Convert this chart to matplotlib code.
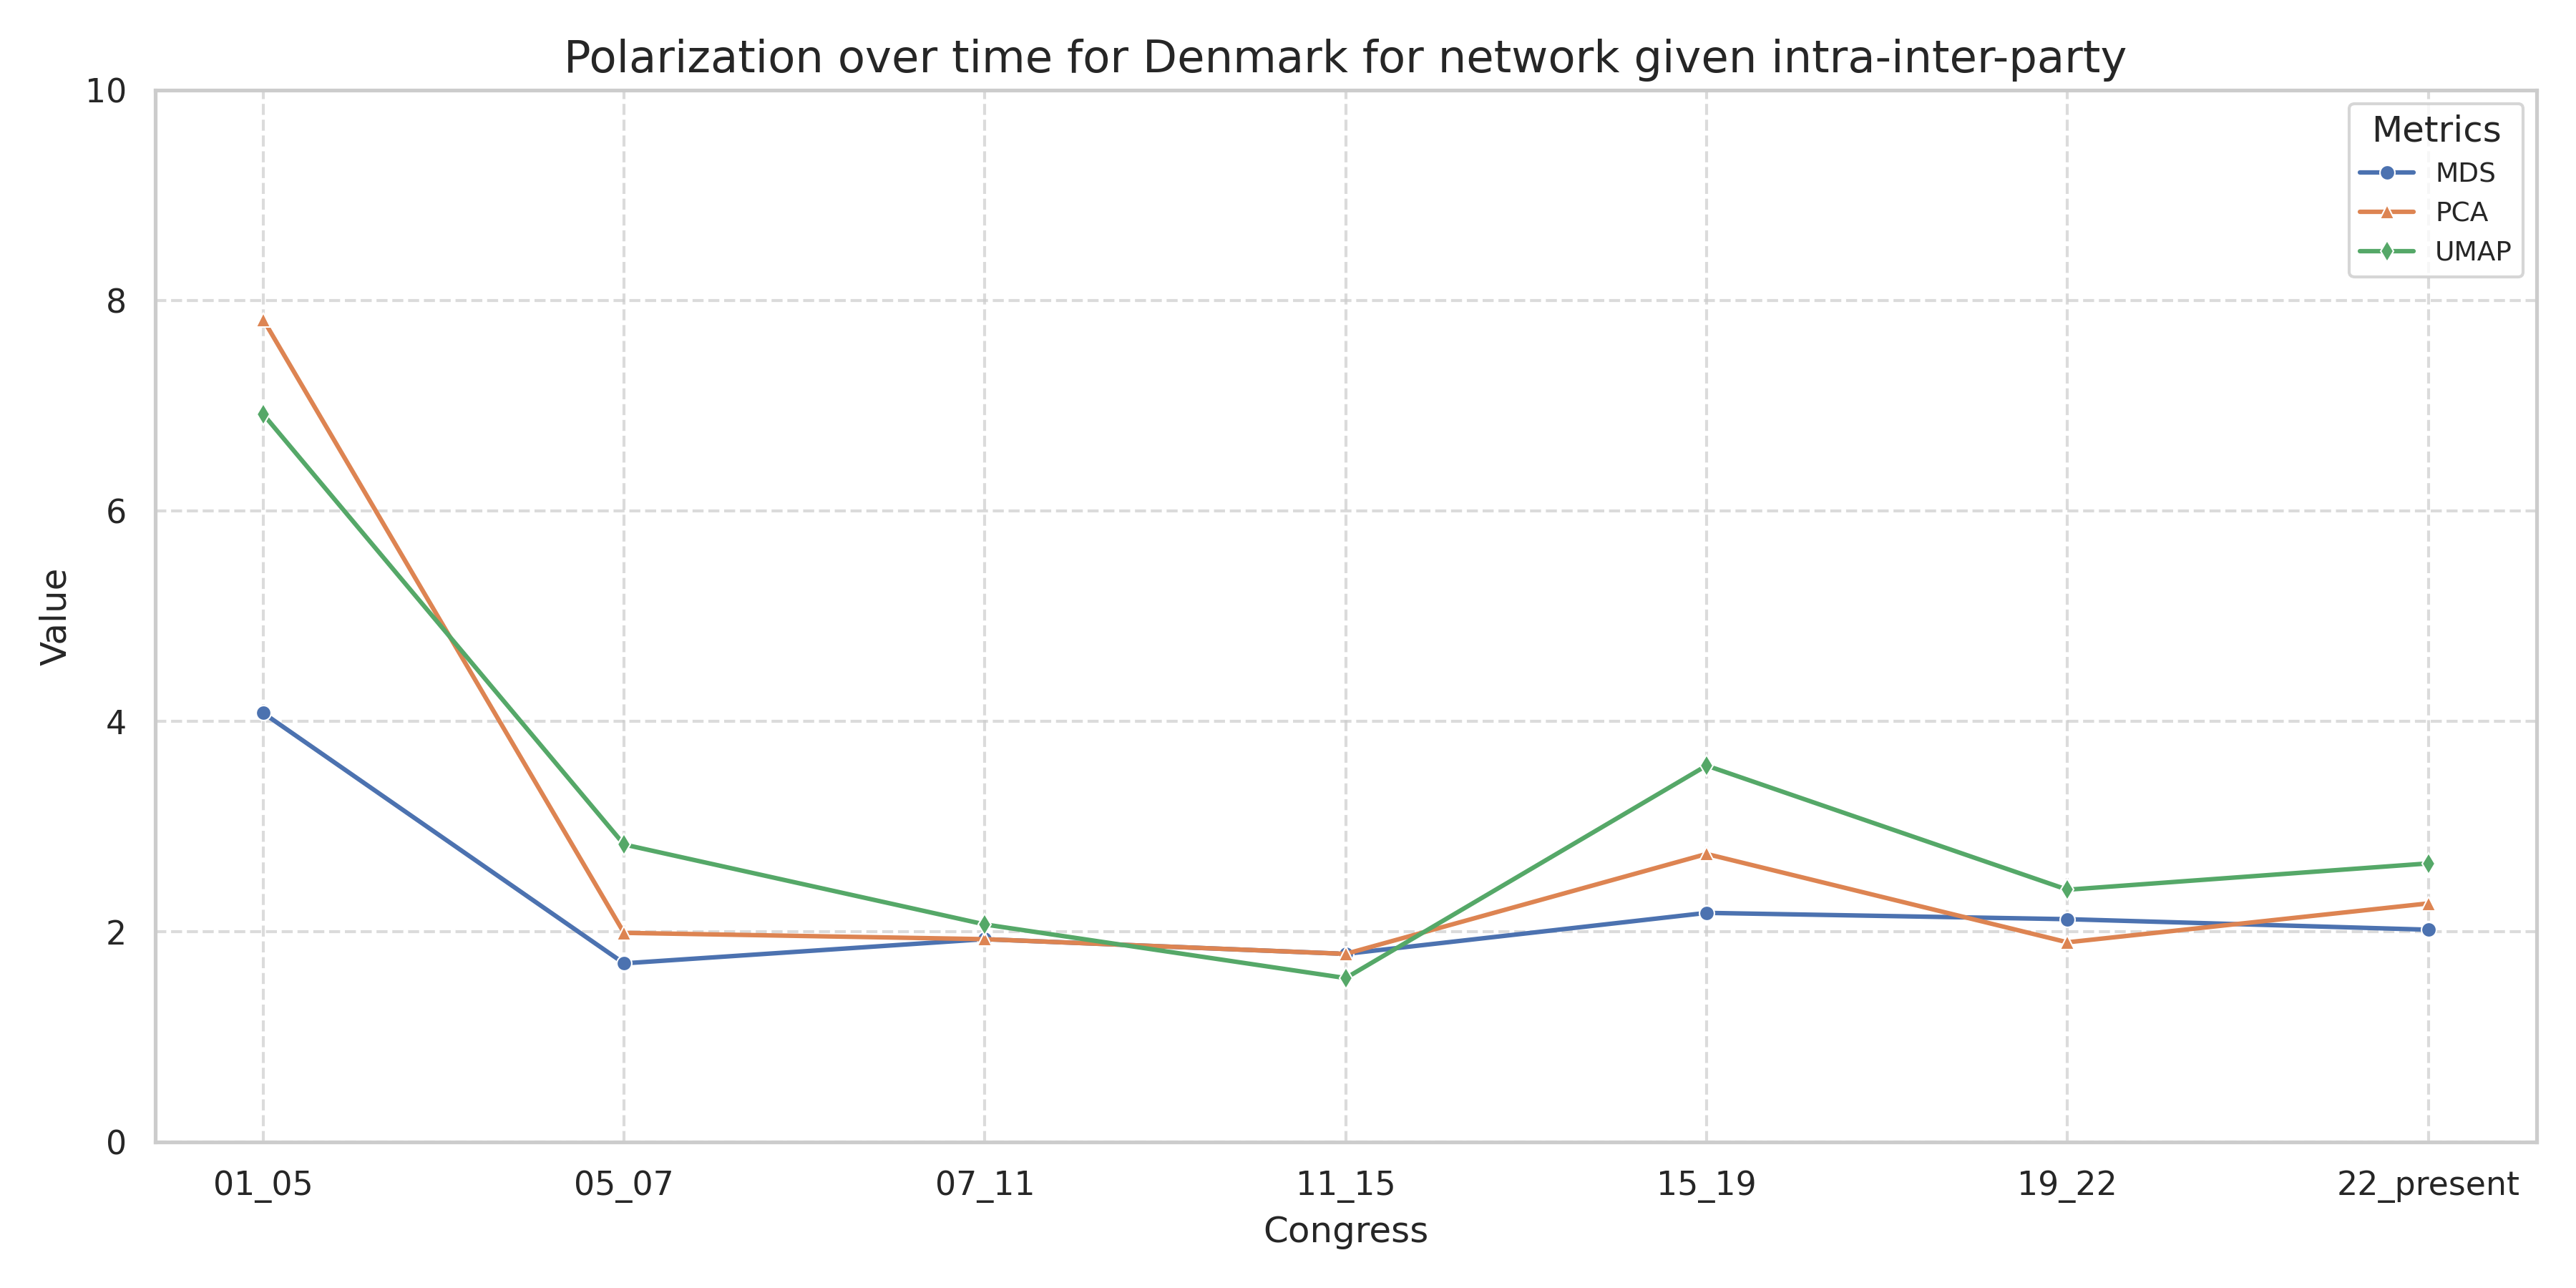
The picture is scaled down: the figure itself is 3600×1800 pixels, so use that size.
import matplotlib
matplotlib.use("Agg")
import matplotlib.pyplot as plt
import seaborn as sns

sns.set_theme(style="whitegrid")
plt.rcParams['font.family'] = ['DejaVu Sans']

congress = ["01_05", "05_07", "07_11", "11_15", "15_19", "19_22", "22_present"]
mds = [4.08, 1.70, 1.93, 1.79, 2.18, 2.12, 2.02]
pca = [7.82, 1.99, 1.93, 1.79, 2.74, 1.90, 2.27]
umap = [6.92, 2.83, 2.07, 1.56, 3.58, 2.40, 2.65]

pal = sns.color_palette("deep")
fig, ax = plt.subplots(figsize=(12, 6), dpi=300)
x = range(len(congress))
ax.plot(x, mds, marker="o", color=pal[0], label="MDS", markersize=5, markeredgecolor="white", markeredgewidth=0.5)
ax.plot(x, pca, marker="^", color=pal[1], label="PCA", markersize=5, markeredgecolor="white", markeredgewidth=0.5)
ax.plot(x, umap, marker="d", color=pal[2], label="UMAP", markersize=5, markeredgecolor="white", markeredgewidth=0.5)
ax.set_xticks(list(x))
ax.set_xticklabels(congress)
ax.set_ylim(0, 10)
ax.set_xlim(-0.3, 6.3)
ax.grid(True, linestyle="--", alpha=0.7)
ax.set_xlabel("Congress")
ax.set_ylabel("Value")
ax.set_title("Polarization over time for Denmark for network given intra-inter-party", fontsize=15)
ax.legend(title="Metrics", loc="upper right", fontsize=9)
fig.tight_layout()
fig.savefig("out.png", dpi=300)
